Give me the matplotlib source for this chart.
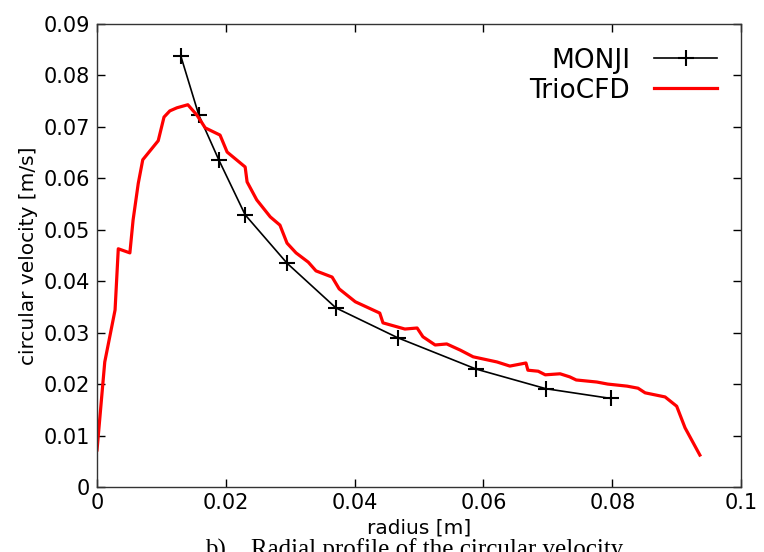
import matplotlib
matplotlib.use("Agg")
import matplotlib.pyplot as plt

# MONJI reference points (radius [m], circular velocity [m/s])
monji_r = [0.0130, 0.0158, 0.0189, 0.0230, 0.0295, 0.0371, 0.0467, 0.0589, 0.0697, 0.0798]
monji_v = [0.0838, 0.0723, 0.0636, 0.0529, 0.0435, 0.0348, 0.0290, 0.0229, 0.0191, 0.0172]

# TrioCFD profile
trio_r = [0.0000, 0.0012, 0.0028, 0.0033, 0.0051, 0.0056, 0.0064, 0.0071, 0.0095,
          0.0104, 0.0113, 0.0124, 0.0141, 0.0155, 0.0168, 0.0191, 0.0202, 0.0230,
          0.0233, 0.0248, 0.0269, 0.0284, 0.0295, 0.0309, 0.0328, 0.0340, 0.0365,
          0.0376, 0.0401, 0.0439, 0.0444, 0.0478, 0.0497, 0.0506, 0.0525, 0.0543,
          0.0564, 0.0584, 0.0621, 0.0641, 0.0666, 0.0669, 0.0685, 0.0696, 0.0719,
          0.0734, 0.0744, 0.0776, 0.0793, 0.0823, 0.0840, 0.0851, 0.0882, 0.0900,
          0.0913, 0.0936]
trio_v = [0.0072, 0.0243, 0.0344, 0.0463, 0.0455, 0.0519, 0.0590, 0.0636, 0.0673,
          0.0719, 0.0731, 0.0737, 0.0743, 0.0723, 0.0698, 0.0684, 0.0651, 0.0622,
          0.0593, 0.0558, 0.0525, 0.0509, 0.0474, 0.0455, 0.0437, 0.0420, 0.0408,
          0.0385, 0.0360, 0.0338, 0.0319, 0.0307, 0.0309, 0.0292, 0.0276, 0.0278,
          0.0266, 0.0253, 0.0243, 0.0235, 0.0241, 0.0227, 0.0225, 0.0218, 0.0220,
          0.0214, 0.0208, 0.0204, 0.0200, 0.0196, 0.0192, 0.0183, 0.0175, 0.0157,
          0.0115, 0.0062]

x_ticks = [0, 0.02, 0.04, 0.06, 0.08, 0.1]
x_tick_labels = ["0", "0.02", "0.04", "0.06", "0.08", "0.1"]
y_ticks = [0, 0.01, 0.02, 0.03, 0.04, 0.05, 0.06, 0.07, 0.08, 0.09]
y_tick_labels = ["0", "0.01", "0.02", "0.03", "0.04", "0.05", "0.06", "0.07", "0.08", "0.09"]

plt.rcParams["font.family"] = ["DejaVu Sans"]

fig = plt.figure(figsize=(7.64, 5.52), dpi=100)
fig.patch.set_facecolor("white")
ax = fig.add_axes([0.127, 0.1178, 0.843, 0.8388])

ax.plot(monji_r, monji_v, color="black", lw=1.2, marker="+", ms=11, mew=1.5, label="MONJI")
ax.plot(trio_r, trio_v, color="#ff0000", lw=2.3, label="TrioCFD")

ax.set_xlim(0, 0.1)
ax.set_ylim(0, 0.09)
ax.set_xticks(x_ticks)
ax.set_xticklabels(x_tick_labels)
ax.set_yticks(y_ticks)
ax.set_yticklabels(y_tick_labels)
ax.tick_params(direction="in", length=6, width=1, top=True, right=True, labelsize=15,
               colors="black")
ax.tick_params(axis="x", pad=4)
ax.tick_params(axis="y", pad=5)
for sp in ax.spines.values():
    sp.set_linewidth(1.0)
    sp.set_color("#333333")

ax.set_xlabel("radius [m]", fontsize=14.5, labelpad=4)
ax.set_ylabel("circular velocity [m/s]", fontsize=14.5, labelpad=4)

leg = ax.legend(loc="upper right", frameon=False, markerfirst=False, fontsize=19,
                handlelength=2.4, handletextpad=0.9, borderaxespad=0.5, labelspacing=0.15)
for t in leg.get_texts():
    t.set_ha("right")

# figure caption, cut off by the image edge as in the source
fig.text(0.268, 1 - 539 / 552, "b)    Radial profile of the circular velocity", fontsize=18,
         family=["Liberation Serif", "DejaVu Serif"], va="top", ha="left")

fig.savefig("out.png", dpi=100, facecolor="white")
